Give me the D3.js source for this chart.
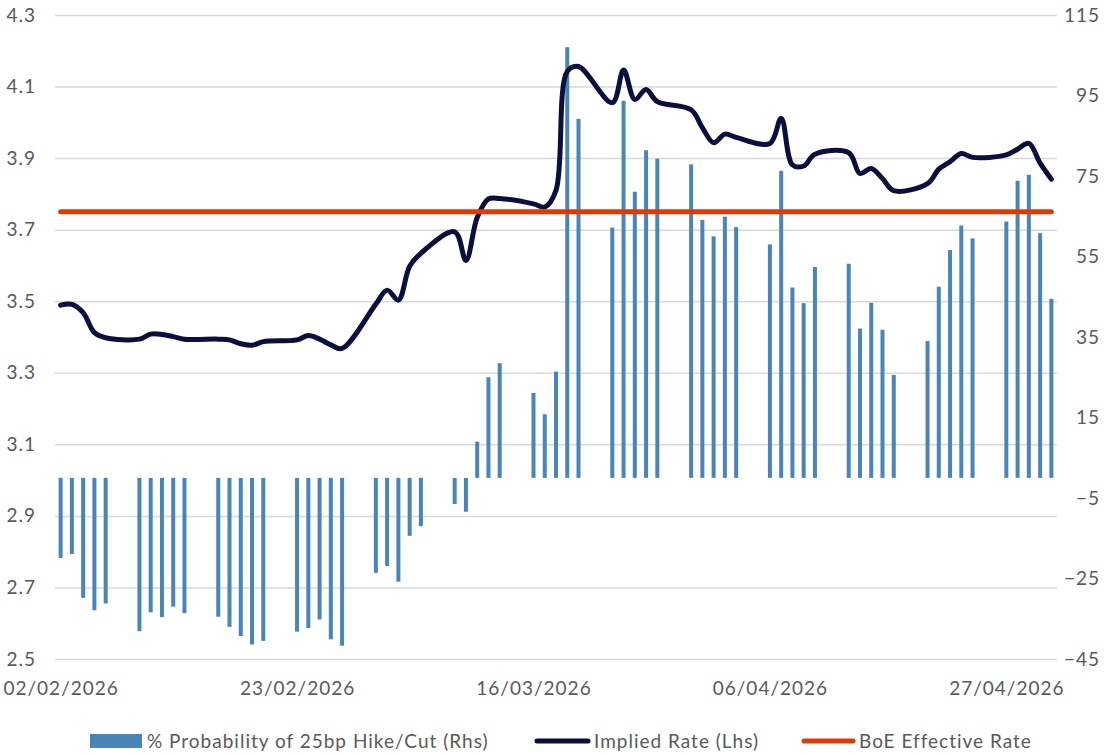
<!DOCTYPE html>
<html>
<head>
<meta charset="utf-8">
<script src="https://cdn.jsdelivr.net/npm/d3@7"></script>
<style>
  body { margin: 0; background: #fff; }
  svg text { font-family: Lato, "Open Sans", sans-serif; fill: #595959; letter-spacing: 1px; }
</style>
</head>
<body>
<div id="chart"></div>
<script>
// business days shown on the date axis
var dates = [
  "2026-02-02","2026-02-03","2026-02-04","2026-02-05","2026-02-06",
  "2026-02-09","2026-02-10","2026-02-11","2026-02-12","2026-02-13",
  "2026-02-16","2026-02-17","2026-02-18","2026-02-19","2026-02-20",
  "2026-02-23","2026-02-24","2026-02-25","2026-02-26","2026-02-27",
  "2026-03-02","2026-03-03","2026-03-04","2026-03-05","2026-03-06",
  "2026-03-09","2026-03-10","2026-03-11","2026-03-12","2026-03-13",
  "2026-03-16","2026-03-17","2026-03-18","2026-03-19","2026-03-20",
  "2026-03-23","2026-03-24","2026-03-25","2026-03-26","2026-03-27",
  "2026-03-30","2026-03-31","2026-04-01","2026-04-02","2026-04-03",
  "2026-04-06","2026-04-07","2026-04-08","2026-04-09","2026-04-10",
  "2026-04-13","2026-04-14","2026-04-15","2026-04-16","2026-04-17",
  "2026-04-20","2026-04-21","2026-04-22","2026-04-23","2026-04-24",
  "2026-04-27","2026-04-28","2026-04-29","2026-04-30","2026-05-01"
];

// % probability of 25bp hike/cut (rhs)
var probability = [
  -19.9, -18.9, -29.8, -32.9, -31.2,
  -38.1, -33.4, -34.6, -32.0, -33.6,
  -34.5, -37.0, -39.3, -41.4, -40.5,
  -38.2, -37.3, -35.2, -40.1, -41.7,
  -23.6, -21.9, -25.8, -14.4, -12.0,
  -6.5, -8.4, 9.0, 25.0, 28.5,
  21.1, 15.8, 26.4, 107.0, 89.2,
  62.2, 93.7, 71.1, 81.4, 79.3,
  77.9, 64.1, 60.0, 64.9, 62.3,
  58.0, 76.3, 47.3, 43.4, 52.4,
  53.2, 37.1, 43.5, 36.8, 25.6,
  34.0, 47.5, 56.6, 62.7, 59.5,
  63.7, 73.8, 75.3, 60.8, 44.5
];

// implied rate (lhs)
var impliedRate = [
  3.489, 3.491, 3.468, 3.412, 3.398,
  3.394, 3.408, 3.407, 3.401, 3.394,
  3.394, 3.392, 3.381, 3.377, 3.387,
  3.392, 3.404, 3.394, 3.378, 3.368,
  3.492, 3.531, 3.503, 3.598, 3.634,
  3.694, 3.614, 3.734, 3.786, 3.787,
  3.772, 3.763, 3.810, 4.142, 4.156,
  4.055, 4.146, 4.064, 4.092, 4.058,
  4.035, 3.985, 3.943, 3.967, 3.958,
  3.941, 4.011, 3.881, 3.878, 3.911,
  3.915, 3.857, 3.871, 3.843, 3.809,
  3.829, 3.869, 3.890, 3.913, 3.902,
  3.909, 3.925, 3.941, 3.886, 3.841
];

var boeRate = 3.75;

var leftTicks = [2.5, 2.7, 2.9, 3.1, 3.3, 3.5, 3.7, 3.9, 4.1, 4.3];
var rightTicks = [-45, -25, -5, 15, 35, 55, 75, 95, 115];
var dateTicks = ["2026-02-02", "2026-02-23", "2026-03-16", "2026-04-06", "2026-04-27"];

var legendLabels = ["% Probability of 25bp Hike/Cut (Rhs)", "Implied Rate (Lhs)", "BoE Effective Rate"];

//=====================================================================
var width = 1107, height = 755;
var plot = { left: 55, right: 1057, top: 15, bottom: 659 };

var parse = d3.timeParse("%Y-%m-%d");
var days = dates.map(parse);

var svg = d3.select("#chart").append("svg")
  .attr("width", width)
  .attr("height", height);

var x = d3.scaleTime()
  .domain([d3.timeHour.offset(days[0], -12), d3.timeHour.offset(days[days.length - 1], 12)])
  .range([plot.left, plot.right]);

var yL = d3.scaleLinear().domain([2.5, 4.3]).range([plot.bottom, plot.top]);
var yR = d3.scaleLinear().domain([-45, 115]).range([plot.bottom, plot.top]);

// gridlines
svg.append("g")
  .attr("class", "grid")
  .attr("transform", "translate(" + plot.left + ",0)")
  .call(d3.axisLeft(yL).tickValues(leftTicks).tickSize(-(plot.right - plot.left)).tickFormat(""))
  .call(function (g) { g.select(".domain").remove(); })
  .call(function (g) { g.selectAll("line").attr("stroke", "#d9d9d9").attr("stroke-width", 1.5); });

// left axis labels
svg.append("g")
  .attr("transform", "translate(36,0)")
  .call(d3.axisLeft(yL).tickValues(leftTicks).tickSize(0).tickPadding(0).tickFormat(d3.format(".1f")))
  .call(function (g) { g.select(".domain").remove(); })
  .selectAll("text").style("font-size", "19px").attr("fill", "#595959");

// right axis labels
svg.append("g")
  .attr("transform", "translate(1100,0)")
  .call(d3.axisLeft(yR).tickValues(rightTicks).tickSize(0).tickPadding(0))
  .call(function (g) { g.select(".domain").remove(); })
  .selectAll("text").style("font-size", "19px").attr("fill", "#595959");

// date labels
svg.append("g")
  .attr("transform", "translate(0," + (plot.bottom + 22) + ")")
  .call(d3.axisBottom(x).tickValues(dateTicks.map(parse)).tickSize(0).tickPadding(0).tickFormat(d3.timeFormat("%d/%m/%Y")))
  .call(function (g) { g.select(".domain").remove(); })
  .selectAll("text").style("font-size", "19px").attr("fill", "#595959");

// bars
var barW = 4;
svg.append("g")
  .selectAll("rect")
  .data(probability)
  .enter().append("rect")
  .attr("x", function (d, i) { return x(days[i]) - barW / 2; })
  .attr("y", function (d) { return yR(Math.max(0, d)); })
  .attr("width", barW)
  .attr("height", function (d) { return Math.abs(yR(d) - yR(0)); })
  .attr("fill", "#4a85b8");

// implied rate line
var line = d3.line()
  .x(function (d, i) { return x(days[i]); })
  .y(function (d) { return yL(d); })
  .curve(d3.curveCatmullRom.alpha(0.5));

svg.append("path")
  .datum(impliedRate)
  .attr("d", line)
  .attr("fill", "none")
  .attr("stroke", "#0b0f3e")
  .attr("stroke-width", 5)
  .attr("stroke-linejoin", "round")
  .attr("stroke-linecap", "round");

// BoE effective rate
svg.append("line")
  .attr("x1", x(days[0]))
  .attr("x2", x(days[days.length - 1]))
  .attr("y1", yL(boeRate))
  .attr("y2", yL(boeRate))
  .attr("stroke", "#dc3b05")
  .attr("stroke-width", 5)
  .attr("stroke-linecap", "round");

// legend
var ly = 741;
var legend = svg.append("g").attr("class", "legend");
legend.append("rect").attr("x", 90).attr("y", ly - 7).attr("width", 52).attr("height", 14).attr("fill", "#4a85b8");
legend.append("text").attr("x", 147).attr("y", ly).attr("dy", "0.35em").style("font-size", "19px").text(legendLabels[0]);
legend.append("line").attr("x1", 537).attr("x2", 588).attr("y1", ly).attr("y2", ly)
  .attr("stroke", "#0b0f3e").attr("stroke-width", 5).attr("stroke-linecap", "round");
legend.append("text").attr("x", 594).attr("y", ly).attr("dy", "0.35em").style("font-size", "19px").text(legendLabels[1]);
legend.append("line").attr("x1", 804).attr("x2", 853).attr("y1", ly).attr("y2", ly)
  .attr("stroke", "#dc3b05").attr("stroke-width", 5).attr("stroke-linecap", "round");
legend.append("text").attr("x", 859).attr("y", ly).attr("dy", "0.35em").style("font-size", "19px").text(legendLabels[2]);
</script>
</body>
</html>
